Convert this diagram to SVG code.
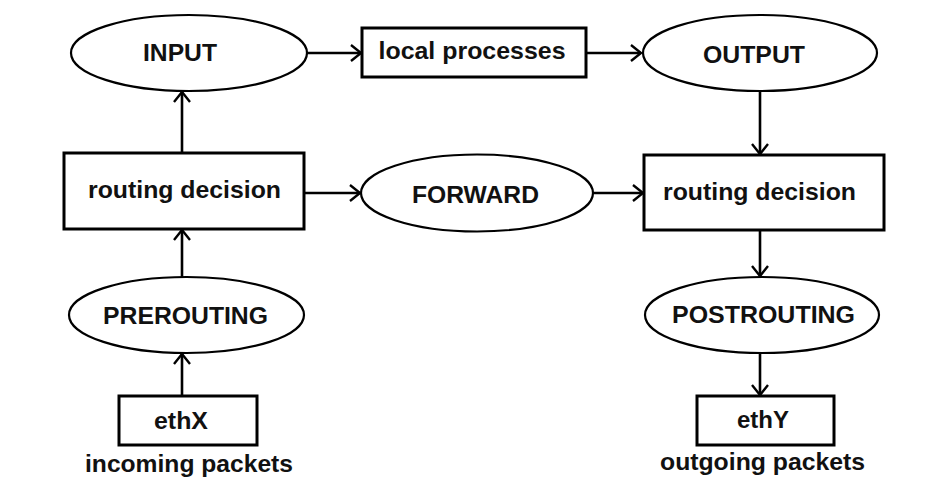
<svg xmlns="http://www.w3.org/2000/svg" width="936" height="497" viewBox="0 0 936 497">
<style>
.bg{fill:#fff}
.ell{fill:#fff;stroke:#000;stroke-width:2.2}
.box{fill:#fff;stroke:#000;stroke-width:3}
.lbl{font-family:"Liberation Sans",Arial,sans-serif;font-weight:bold;font-size:24px;fill:#111;text-anchor:middle}
.con{stroke:#000;stroke-width:2.6;fill:none;marker-end:url(#arr)}
</style>
<defs>
<marker id="arr" markerUnits="userSpaceOnUse" markerWidth="14" markerHeight="20" viewBox="-12 -10 14 20" refX="0" refY="0" orient="auto">
<path d="M-10,-8 L0,0 L-10,8" fill="none" stroke="#000" stroke-width="2.4"/>
</marker>
</defs>
<rect class="bg" x="0" y="0" width="936" height="497"/>
<g id="connectors">
<line class="con" x1="307" y1="53" x2="361" y2="53"/>
<line class="con" x1="586" y1="53" x2="641" y2="53"/>
<line class="con" x1="760" y1="92" x2="760" y2="154"/>
<line class="con" x1="182" y1="153" x2="182" y2="92"/>
<line class="con" x1="304" y1="193" x2="360" y2="193"/>
<line class="con" x1="594" y1="193" x2="643" y2="193"/>
<line class="con" x1="182" y1="277" x2="182" y2="230"/>
<line class="con" x1="182" y1="396" x2="182" y2="354"/>
<line class="con" x1="760" y1="230" x2="760" y2="276"/>
<line class="con" x1="760" y1="353" x2="760" y2="395"/>
</g>
<g id="input">
<ellipse class="ell" cx="189" cy="53" rx="118" ry="38"/>
<text class="lbl" x="180" y="61" textLength="74" lengthAdjust="spacingAndGlyphs">INPUT</text>
</g>
<g id="local">
<rect class="box" x="362" y="28" width="224" height="49"/>
<text class="lbl" x="472" y="59" textLength="187" lengthAdjust="spacingAndGlyphs">local processes</text>
</g>
<g id="output">
<ellipse class="ell" cx="760" cy="53" rx="117" ry="38"/>
<text class="lbl" x="754" y="63" textLength="102" lengthAdjust="spacingAndGlyphs">OUTPUT</text>
</g>
<g id="routing-left">
<rect class="box" x="64" y="153" width="240" height="76"/>
<text class="lbl" x="184.5" y="198" textLength="193" lengthAdjust="spacingAndGlyphs">routing decision</text>
</g>
<g id="forward">
<ellipse class="ell" cx="477" cy="193" rx="116" ry="38.5"/>
<text class="lbl" x="475.5" y="203" textLength="127" lengthAdjust="spacingAndGlyphs">FORWARD</text>
</g>
<g id="routing-right">
<rect class="box" x="644" y="155" width="240" height="75"/>
<text class="lbl" x="759.5" y="200" textLength="193" lengthAdjust="spacingAndGlyphs">routing decision</text>
</g>
<g id="prerouting">
<ellipse class="ell" cx="186.5" cy="315" rx="117.5" ry="38"/>
<text class="lbl" x="185.5" y="324" textLength="165" lengthAdjust="spacingAndGlyphs">PREROUTING</text>
</g>
<g id="postrouting">
<ellipse class="ell" cx="762" cy="315" rx="117" ry="38"/>
<text class="lbl" x="763.5" y="323" textLength="183" lengthAdjust="spacingAndGlyphs">POSTROUTING</text>
</g>
<g id="ethx">
<rect class="box" x="119" y="396" width="138" height="49"/>
<text class="lbl" x="181" y="429" textLength="54" lengthAdjust="spacingAndGlyphs">ethX</text>
<text class="lbl" x="189" y="472" textLength="208" lengthAdjust="spacingAndGlyphs">incoming packets</text>
</g>
<g id="ethy">
<rect class="box" x="697" y="396" width="137" height="49"/>
<text class="lbl" x="763" y="428" textLength="52" lengthAdjust="spacingAndGlyphs">ethY</text>
<text class="lbl" x="762.5" y="470" textLength="205" lengthAdjust="spacingAndGlyphs">outgoing packets</text>
</g>
</svg>
